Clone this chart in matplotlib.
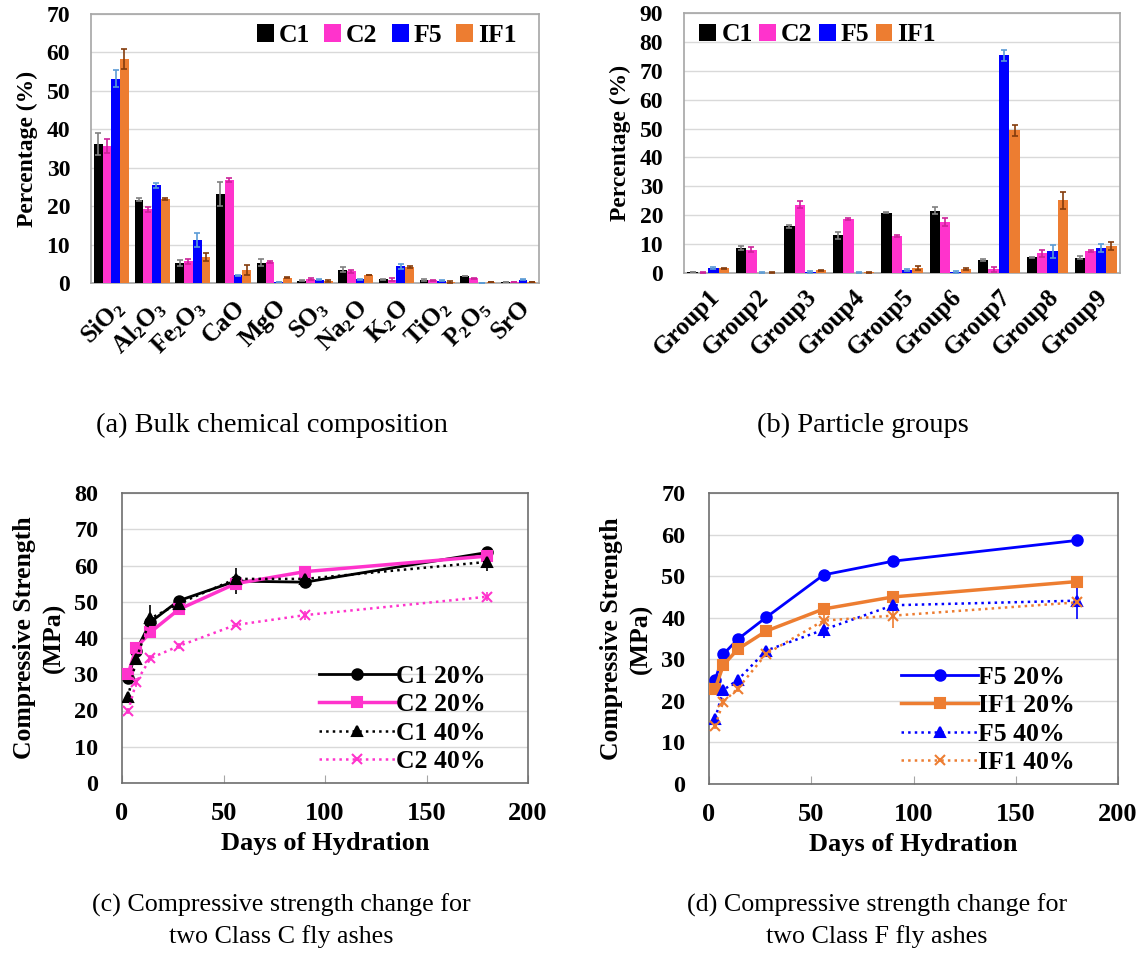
import numpy as np
import matplotlib
matplotlib.use('Agg')
import matplotlib.pyplot as plt

plt.rcParams['font.family'] = ['Liberation Serif', 'DejaVu Serif']
plt.rcParams['font.weight'] = 'bold'
plt.rcParams['mathtext.fontset'] = 'custom'
plt.rcParams['mathtext.rm'] = 'Liberation Serif:bold'
plt.rcParams['mathtext.it'] = 'Liberation Serif:bold'
plt.rcParams['mathtext.bf'] = 'Liberation Serif:bold'

# --- (a) bulk chemical composition ---
oxides = ['SiO$_2$', 'Al$_2$O$_3$', 'Fe$_2$O$_3$', 'CaO', 'MgO', 'SO$_3$',
          'Na$_2$O', 'K$_2$O', 'TiO$_2$', 'P$_2$O$_5$', 'SrO']
ox_c1 = [36.2, 21.7, 5.3, 23.1, 5.3, 0.6, 3.5, 1.0, 0.8, 1.8, 0.2]
ox_c2 = [35.7, 19.2, 5.6, 26.8, 5.4, 1.0, 3.0, 0.9, 0.7, 1.2, 0.2]
ox_f5 = [53.1, 25.4, 11.2, 2.0, 0.2, 0.9, 1.0, 4.3, 0.6, 0.1, 0.9]
ox_if1 = [58.3, 21.9, 6.8, 3.5, 1.4, 0.6, 2.1, 4.2, 0.2, 0.3, 0.2]
ox_c1_err = [2.8, 0.3, 0.8, 3.1, 1.0, 0.1, 0.6, 0.1, 0.2, 0.1, 0.0]
ox_c2_err = [1.8, 0.6, 0.6, 0.5, 0.3, 0.3, 0.4, 0.3, 0.2, 0.1, 0.0]
ox_f5_err = [2.2, 0.7, 1.9, 0.1, 0.0, 0.2, 0.1, 0.6, 0.1, 0.0, 0.2]
ox_if1_err = [2.6, 0.2, 1.1, 1.3, 0.2, 0.3, 0.1, 0.2, 0.2, 0.0, 0.0]

# --- (b) particle groups ---
groups = ['Group%d' % i for i in range(1, 10)]
gr_c1 = [0.4, 8.7, 16.2, 13.0, 20.9, 21.6, 4.5, 5.4, 5.3]
gr_c2 = [0.1, 8.1, 23.7, 18.6, 12.7, 17.7, 1.3, 6.8, 7.6]
gr_f5 = [1.7, 0.1, 0.3, 0.1, 1.0, 0.3, 75.3, 7.5, 8.7]
gr_if1 = [1.7, 0.1, 1.0, 0.3, 1.6, 1.5, 49.4, 25.1, 9.3]
gr_c1_err = [0.1, 0.6, 0.5, 1.2, 0.3, 1.2, 0.3, 0.2, 0.6]
gr_c2_err = [0.1, 1.0, 1.2, 0.3, 0.3, 1.3, 0.8, 1.1, 0.5]
gr_f5_err = [0.4, 0.3, 0.3, 0.1, 0.3, 0.3, 1.8, 2.2, 1.5]
gr_if1_err = [0.2, 0.1, 0.2, 0.2, 0.7, 0.3, 2.0, 3.0, 1.4]

# --- (c), (d) compressive strength ---
days = [3, 7, 14, 28, 56, 90, 180]
c1_20 = [29.0, 36.5, 44.4, 50.3, 55.7, 55.4, 63.6]
c2_20 = [30.0, 37.3, 41.6, 47.9, 55.0, 58.3, 62.6]
c1_40 = [23.7, 34.2, 45.4, 49.5, 56.3, 56.3, 61.0]
c2_40 = [19.8, 27.8, 34.4, 37.8, 43.6, 46.3, 51.4]
c1_20_err = [0.5, 0.5, 1.0, 1.0, 3.5, 1.0, 0.8]
c2_20_err = [0.5, 0.5, 0.8, 0.8, 1.0, 0.8, 0.8]
c1_40_err = [0.8, 1.0, 3.6, 0.8, 1.0, 1.0, 2.5]
c2_40_err = [0.8, 1.2, 0.8, 0.8, 0.6, 1.2, 1.2]

f5_20 = [25.0, 31.2, 34.8, 40.1, 50.3, 53.6, 58.6]
if1_20 = [22.9, 28.6, 32.4, 36.8, 42.1, 45.0, 48.7]
f5_40 = [15.7, 22.6, 25.0, 32.1, 37.1, 43.0, 44.1]
if1_40 = [14.0, 19.8, 22.9, 31.3, 39.3, 40.5, 43.7]
f5_20_err = [0.5, 0.5, 0.5, 0.5, 0.5, 0.5, 0.5]
if1_20_err = [0.5, 0.5, 0.5, 0.5, 0.5, 0.5, 0.5]
f5_40_err = [0.8, 0.8, 1.0, 0.8, 2.0, 0.8, 4.3]
if1_40_err = [0.8, 0.8, 0.8, 0.8, 1.5, 3.0, 1.0]

BLACK, PINK, BLUE, ORANGE = '#000000', '#ff33cc', '#0000ff', '#ed7d31'
ECOL = ['#808080', '#cc2299', '#5b9bd5', '#843c0c']
GRID = '#d9d9d9'
W, H = 1145, 961


def box(l, t, r, b):
    return [l / W, 1 - b / H, (r - l) / W, (b - t) / H]


def bar_panel(ax, cats, series, errs, ymax, legend_loc, anchor, xfs, colsp):
    n = len(cats)
    x = np.arange(n)
    bw = 0.215
    labels = ['C1', 'C2', 'F5', 'IF1']
    for i, (vals, ee, col) in enumerate(zip(series, errs, [BLACK, PINK, BLUE, ORANGE])):
        ax.bar(x + (i - 1.5) * bw, vals, bw, color=col, label=labels[i], zorder=3,
               yerr=ee, error_kw=dict(ecolor=ECOL[i], elinewidth=1.2, capsize=2, capthick=1.2, zorder=4))
    ax.set_xlim(-0.5, n - 0.5)
    ax.set_ylim(0, ymax)
    ax.set_yticks(np.arange(0, ymax + 1, 10))
    ax.yaxis.grid(True, color=GRID, lw=1, zorder=0)
    ax.set_axisbelow(True)
    for s in ax.spines.values():
        s.set_color('#a6a6a6')
        s.set_linewidth(1.2)
    ax.tick_params(axis='y', length=0, labelsize=17, pad=15)
    ax.tick_params(axis='x', length=0, pad=9)
    ax.set_xticks(x)
    ax.set_xticklabels(cats, rotation=45, ha='right', va='top', rotation_mode='anchor', fontsize=xfs)
    ax.set_ylabel('Percentage (%)', fontsize=17, fontweight='bold', labelpad=6)
    ax.legend(loc=legend_loc, bbox_to_anchor=anchor, ncol=4, frameon=False, fontsize=18.5,
              handlelength=0.65, handleheight=0.65, handletextpad=0.2, columnspacing=colsp,
              borderaxespad=0.2)


def line_panel(ax, data, ymax, leg_labels, leg_x):
    for (vals, ee, col, ls, mk, lw, ms) in data:
        ax.errorbar(days, vals, yerr=ee, color=col, ls=ls, marker=mk, lw=lw, ms=ms,
                    mew=1.5, elinewidth=1.2, capsize=0, zorder=3)
    ax.set_xlim(0, 200)
    ax.set_ylim(0, ymax)
    ax.set_xticks([0, 50, 100, 150, 200])
    ax.set_yticks(np.arange(0, ymax + 1, 10))
    ax.yaxis.grid(True, color=GRID, lw=1, zorder=0)
    ax.set_axisbelow(True)
    for s in ax.spines.values():
        s.set_color('#6e6e6e')
        s.set_linewidth(1.2)
    ax.tick_params(axis='y', length=0, labelsize=17.5, pad=17)
    ax.tick_params(axis='x', direction='in', length=6, color='#a6a6a6', labelsize=19, pad=14)
    ax.set_xlabel('Days of Hydration', fontsize=19, fontweight='bold', labelpad=5)
    ax.set_ylabel('Compressive Strength\n(MPa)', fontsize=18.5, fontweight='bold',
                  linespacing=1.35, labelpad=6)
    handles = [plt.Line2D([], [], color=d[2], ls=d[3], marker=d[4], lw=d[5], ms=d[6], mew=1.5)
               for d in data]
    ax.legend(handles, leg_labels, loc='lower right', bbox_to_anchor=(leg_x, 0.0), frameon=False,
              fontsize=18.5, handlelength=3.0, handletextpad=0.0, labelspacing=0.2,
              borderaxespad=0.0)


fig = plt.figure(figsize=(W / 100, H / 100), dpi=100)

ax_a = fig.add_axes(box(91, 14, 539, 283))
bar_panel(ax_a, oxides, [ox_c1, ox_c2, ox_f5, ox_if1],
          [ox_c1_err, ox_c2_err, ox_f5_err, ox_if1_err], 70, 'upper right', (0.985, 1.02), 18, 0.55)

ax_b = fig.add_axes(box(684, 13, 1120, 273))
bar_panel(ax_b, groups, [gr_c1, gr_c2, gr_f5, gr_if1],
          [gr_c1_err, gr_c2_err, gr_f5_err, gr_if1_err], 90, 'upper left', (0.0, 1.02), 18, 0.25)

ax_c = fig.add_axes(box(122, 493, 528, 783))
line_panel(ax_c, [
    (c1_20, c1_20_err, BLACK, '-', 'o', 2.0, 7.5),
    (c2_20, c2_20_err, PINK, '-', 's', 2.5, 7.5),
    (c1_40, c1_40_err, BLACK, ':', '^', 1.8, 7.5),
    (c2_40, c2_40_err, PINK, ':', 'x', 1.8, 7.5),
], 80, ['C1 20%', 'C2 20%', 'C1 40%', 'C2 40%'], 0.92)

ax_d = fig.add_axes(box(709, 493, 1118, 784))
line_panel(ax_d, [
    (f5_20, f5_20_err, BLUE, '-', 'o', 2.0, 7.5),
    (if1_20, if1_20_err, ORANGE, '-', 's', 2.5, 7.5),
    (f5_40, f5_40_err, BLUE, ':', '^', 1.8, 7.5),
    (if1_40, if1_40_err, ORANGE, ':', 'x', 1.8, 7.5),
], 70, ['F5 20%', 'IF1 20%', 'F5 40%', 'IF1 40%'], 0.92)

cap_top = dict(fontsize=20.5, fontweight='normal', ha='center', va='center')
cap_bot = dict(fontsize=18.7, fontweight='normal', ha='center', va='center', linespacing=1.45)
fig.text(272 / W, 1 - 425 / H, '(a) Bulk chemical composition', **cap_top)
fig.text(863 / W, 1 - 425 / H, '(b) Particle groups', **cap_top)
fig.text(281 / W, 1 - 921 / H, '(c) Compressive strength change for\ntwo Class C fly ashes', **cap_bot)
fig.text(877 / W, 1 - 921 / H, '(d) Compressive strength change for\ntwo Class F fly ashes', **cap_bot)

fig.savefig('out.png', dpi=100)
